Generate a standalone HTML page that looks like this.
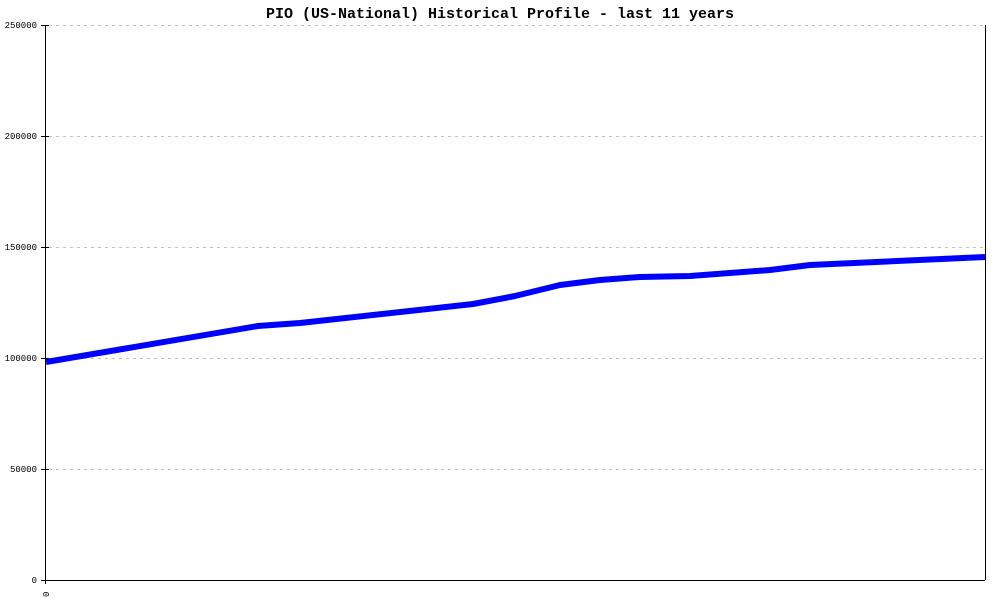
<!DOCTYPE html>
<html><head><meta charset="utf-8"><style>body{margin:0;background:#fff}svg{display:block}</style></head><body>
<svg width="1000" height="600" xmlns="http://www.w3.org/2000/svg">
<rect width="1000" height="600" fill="#fff"/>
<text x="500" y="18" text-anchor="middle" font-family="Liberation Mono, monospace" font-size="15" font-weight="bold">PIO (US-National) Historical Profile - last 11 years</text>
<g stroke="#c0c0c0" stroke-dasharray="3,4" stroke-width="1">
<line x1="49" y1="25.5" x2="985" y2="25.5"/>
<line x1="49" y1="136.5" x2="985" y2="136.5"/>
<line x1="49" y1="247.5" x2="985" y2="247.5"/>
<line x1="49" y1="358.5" x2="985" y2="358.5"/>
<line x1="49" y1="469.5" x2="985" y2="469.5"/>
</g>
<g stroke="#000" stroke-width="1">
<line x1="45.5" y1="25" x2="45.5" y2="584"/>
<line x1="41" y1="580.5" x2="985" y2="580.5"/>
<line x1="985.5" y1="25" x2="985.5" y2="580"/>
<line x1="41" y1="25.5" x2="49" y2="25.5"/>
<line x1="41" y1="136.5" x2="49" y2="136.5"/>
<line x1="41" y1="247.5" x2="49" y2="247.5"/>
<line x1="41" y1="358.5" x2="49" y2="358.5"/>
<line x1="41" y1="469.5" x2="49" y2="469.5"/>
</g>
<g font-family="Liberation Mono, monospace" font-size="9" text-anchor="end">
<text x="37" y="28">250000</text>
<text x="37" y="139">200000</text>
<text x="37" y="250">150000</text>
<text x="37" y="361">100000</text>
<text x="37" y="472">50000</text>
<text x="37" y="583">0</text>
</g>
<text x="0" y="0" font-family="Liberation Mono, monospace" font-size="9" transform="translate(49,597) rotate(-90)">0</text>
<polyline fill="none" stroke="#0000ff" stroke-width="6" stroke-linejoin="round" points="46,362 258,326 300,323 473,304 515,296 560,285 600,280 640,277 690,276 770,270 810,265 985,257"/>
</svg>
</body></html>
